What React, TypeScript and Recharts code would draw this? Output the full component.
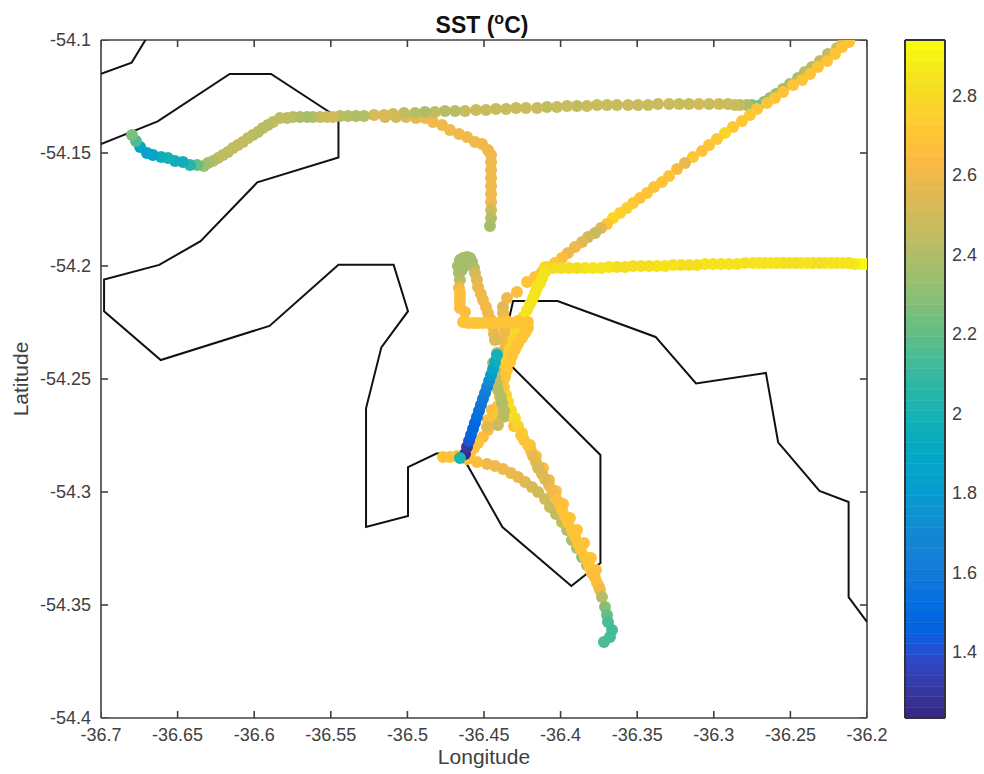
import { Bar, BarChart, Label, ReferenceLine, Scatter, ScatterChart, XAxis, YAxis } from "recharts";

// [lon, lat]
const coastNorth = [[-36.7, -54.115], [-36.68, -54.11], [-36.671, -54.1]];
const coastMain = [
  [-36.7, -54.146], [-36.663, -54.136], [-36.616, -54.115], [-36.589, -54.115], [-36.545, -54.1345], [-36.545, -54.152],
  [-36.598, -54.163], [-36.635, -54.189], [-36.662, -54.1995], [-36.698, -54.206], [-36.698, -54.22], [-36.661, -54.2416],
  [-36.59, -54.2265], [-36.545, -54.1995], [-36.509, -54.1995], [-36.4996, -54.22], [-36.517, -54.236], [-36.527, -54.263],
  [-36.527, -54.3155], [-36.4996, -54.3106], [-36.4996, -54.289], [-36.481, -54.283], [-36.469, -54.2827], [-36.462, -54.2867],
  [-36.438, -54.3155], [-36.393, -54.3416], [-36.374, -54.3314], [-36.374, -54.2836], [-36.431, -54.245], [-36.436, -54.2305],
  [-36.431, -54.2155], [-36.402, -54.2155], [-36.338, -54.2314], [-36.3116, -54.252], [-36.266, -54.2473], [-36.258, -54.278],
  [-36.231, -54.2995], [-36.212, -54.3044], [-36.212, -54.3465], [-36.2, -54.3575],
];

// [lon, lat, sst]
const stubLeg = [
  [-36.5146, -54.1341, 2.5], [-36.5074, -54.1341, 2.5], [-36.5009, -54.1341, 2.55], [-36.4944, -54.1345, 2.58], [-36.4885, -54.1345, 2.62],
  [-36.4833, -54.1363, 2.62], [-36.4774, -54.1376, 2.62], [-36.4722, -54.1398, 2.62], [-36.4663, -54.1416, 2.6], [-36.4611, -54.1429, 2.6],
  [-36.4559, -54.1451, 2.6], [-36.4513, -54.146, 2.62], [-36.4474, -54.1487, 2.62], [-36.4454, -54.1509, 2.62], [-36.4454, -54.154, 2.62],
  [-36.4454, -54.1575, 2.62], [-36.4454, -54.1611, 2.62], [-36.4454, -54.1646, 2.62], [-36.4454, -54.1681, 2.62], [-36.4454, -54.1717, 2.6],
  [-36.4454, -54.1752, 2.5], [-36.4454, -54.1788, 2.42], [-36.4461, -54.1823, 2.37],
];
const topLeg = [
  [-36.2157, -54.1013, 2.5], [-36.2196, -54.1035, 2.48], [-36.2255, -54.1062, 2.45], [-36.2307, -54.1093, 2.44], [-36.2359, -54.1119, 2.42],
  [-36.2405, -54.1142, 2.42], [-36.245, -54.1168, 2.4], [-36.2503, -54.1195, 2.36], [-36.2548, -54.1217, 2.36], [-36.2594, -54.1239, 2.34],
  [-36.2633, -54.1257, 2.34], [-36.2672, -54.1274, 2.3], [-36.2711, -54.1292, 2.22], [-36.2751, -54.1288, 2.3], [-36.2783, -54.1288, 2.4],
  [-36.2829, -54.1288, 2.46], [-36.2862, -54.1288, 2.48], [-36.2907, -54.1283, 2.48], [-36.2966, -54.1283, 2.5], [-36.3031, -54.1283, 2.48],
  [-36.3097, -54.1283, 2.5], [-36.3162, -54.1283, 2.48], [-36.3227, -54.1283, 2.48], [-36.3292, -54.1283, 2.48], [-36.3364, -54.1283, 2.48],
  [-36.3429, -54.1288, 2.48], [-36.3495, -54.1288, 2.48], [-36.356, -54.1288, 2.48], [-36.3632, -54.1288, 2.48], [-36.3697, -54.1288, 2.48],
  [-36.3762, -54.1288, 2.48], [-36.3828, -54.1292, 2.48], [-36.3893, -54.1292, 2.46], [-36.3958, -54.1292, 2.48], [-36.4024, -54.1296, 2.48],
  [-36.4089, -54.1296, 2.46], [-36.4154, -54.1301, 2.48], [-36.4226, -54.1301, 2.48], [-36.4291, -54.1301, 2.48], [-36.4356, -54.1305, 2.48],
  [-36.4422, -54.1305, 2.48], [-36.4487, -54.131, 2.48], [-36.4552, -54.131, 2.48], [-36.4624, -54.1314, 2.47], [-36.4689, -54.1314, 2.42],
  [-36.4755, -54.1314, 2.42], [-36.482, -54.1319, 2.44], [-36.4885, -54.1319, 2.4], [-36.495, -54.1323, 2.42], [-36.5022, -54.1323, 2.44],
  [-36.5094, -54.1327, 2.5], [-36.5153, -54.1332, 2.52], [-36.5218, -54.1332, 2.54], [-36.5283, -54.1336, 2.42], [-36.5336, -54.1336, 2.4],
  [-36.5388, -54.1336, 2.42], [-36.544, -54.1336, 2.42], [-36.5486, -54.1341, 2.5], [-36.5525, -54.1341, 2.5], [-36.557, -54.1341, 2.48],
  [-36.5616, -54.1341, 2.42], [-36.5655, -54.1341, 2.37], [-36.5701, -54.1341, 2.39], [-36.5747, -54.1341, 2.42], [-36.5786, -54.1345, 2.45],
  [-36.5832, -54.1345, 2.45], [-36.5877, -54.1363, 2.44], [-36.591, -54.1376, 2.42], [-36.5943, -54.1389, 2.42], [-36.5975, -54.1407, 2.42],
  [-36.6008, -54.142, 2.42], [-36.604, -54.1434, 2.44], [-36.6073, -54.1451, 2.44], [-36.6106, -54.1465, 2.46], [-36.6138, -54.1478, 2.46],
  [-36.6171, -54.1496, 2.46], [-36.6204, -54.1509, 2.46], [-36.6236, -54.1522, 2.44], [-36.6269, -54.1535, 2.42], [-36.6302, -54.1544, 2.38],
  [-36.6328, -54.1558, 2.33], [-36.6373, -54.1553, 2.2], [-36.6419, -54.1553, 2.05], [-36.6465, -54.154, 1.98], [-36.6517, -54.1535, 1.98],
  [-36.6563, -54.1522, 2.0], [-36.6608, -54.1518, 1.98], [-36.6661, -54.1509, 1.88], [-36.67, -54.15, 1.87], [-36.6745, -54.1473, 1.88],
  [-36.6772, -54.1447, 2.15], [-36.6798, -54.142, 2.25],
];
const neLeg = [
  [-36.2117, -54.1009, 2.68], [-36.2163, -54.1031, 2.68], [-36.2209, -54.1062, 2.68], [-36.2261, -54.1093, 2.68], [-36.232, -54.1119, 2.68],
  [-36.2372, -54.115, 2.68], [-36.2424, -54.1177, 2.68], [-36.2483, -54.1199, 2.68], [-36.2548, -54.123, 2.68], [-36.2601, -54.1257, 2.68],
  [-36.2653, -54.1279, 2.68], [-36.2718, -54.1305, 2.7], [-36.2764, -54.1332, 2.72], [-36.2816, -54.1358, 2.72], [-36.2875, -54.1385, 2.72],
  [-36.2927, -54.1412, 2.8], [-36.2979, -54.1438, 2.72], [-36.3031, -54.1465, 2.68], [-36.3077, -54.1491, 2.7], [-36.3136, -54.1518, 2.72],
  [-36.3188, -54.1544, 2.58], [-36.324, -54.1571, 2.64], [-36.3292, -54.1602, 2.68], [-36.3338, -54.1628, 2.68], [-36.339, -54.165, 2.68],
  [-36.3436, -54.1677, 2.68], [-36.3482, -54.1699, 2.7], [-36.3527, -54.1721, 2.72], [-36.3567, -54.1743, 2.74], [-36.3612, -54.1765, 2.74],
  [-36.3658, -54.1788, 2.8], [-36.3697, -54.1814, 2.68], [-36.3736, -54.1832, 2.55], [-36.3775, -54.1854, 2.48], [-36.3821, -54.1872, 2.5],
  [-36.386, -54.1894, 2.55], [-36.3906, -54.1916, 2.62], [-36.3952, -54.1942, 2.62], [-36.3991, -54.1965, 2.65], [-36.4037, -54.1987, 2.68],
  [-36.4082, -54.2009, 2.68], [-36.4121, -54.2027, 2.68], [-36.4167, -54.2049, 2.7], [-36.4219, -54.2071, 2.68], [-36.4285, -54.2115, 2.66],
  [-36.435, -54.2142, 2.6], [-36.4376, -54.2181, 2.55], [-36.4376, -54.2208, 2.58], [-36.4369, -54.223, 2.6], [-36.4369, -54.2261, 2.6],
  [-36.4363, -54.2283, 2.62], [-36.4363, -54.2314, 2.6], [-36.4363, -54.2341, 2.6], [-36.4363, -54.2371, 2.58], [-36.4369, -54.2394, 2.55],
];
const southLeg = [
  [-36.4376, -54.2447, 2.55], [-36.4376, -54.2504, 2.6], [-36.4376, -54.2558, 2.62], [-36.4363, -54.2611, 2.62], [-36.4337, -54.2664, 2.65],
  [-36.4304, -54.2708, 2.65], [-36.4258, -54.2748, 2.68], [-36.4213, -54.2792, 2.7], [-36.418, -54.2841, 2.58], [-36.4147, -54.2894, 2.52],
  [-36.4102, -54.2942, 2.55], [-36.4056, -54.2991, 2.62], [-36.4024, -54.3035, 2.66], [-36.3991, -54.308, 2.68], [-36.3952, -54.3137, 2.68],
  [-36.3906, -54.3199, 2.7], [-36.3867, -54.3257, 2.7], [-36.3821, -54.3314, 2.68], [-36.3795, -54.3358, 2.65], [-36.3762, -54.3403, 2.65],
  [-36.3743, -54.3434, 2.6], [-36.373, -54.3465, 2.42], [-36.371, -54.3509, 2.3], [-36.3697, -54.3544, 2.22], [-36.3691, -54.3575, 2.15],
  [-36.3664, -54.3611, 2.13], [-36.3678, -54.3642, 2.13], [-36.3717, -54.3664, 2.15],
];
const southPass = [
  [-36.42, -54.2792, 2.68], [-36.4161, -54.2841, 2.68], [-36.4115, -54.2894, 2.66], [-36.4076, -54.2947, 2.66], [-36.403, -54.2996, 2.68], [-36.3984, -54.3053, 2.68],
  [-36.3939, -54.3115, 2.68], [-36.3893, -54.3168, 2.7], [-36.3847, -54.3226, 2.7], [-36.3802, -54.3292, 2.68], [-36.3769, -54.3345, 2.66],
];
const southFill = [
  [-36.4239, -54.277, 2.68], [-36.4193, -54.2819, 2.66], [-36.4161, -54.2867, 2.55], [-36.4121, -54.292, 2.52], [-36.4076, -54.2969, 2.58],
  [-36.4037, -54.3013, 2.64], [-36.4004, -54.3058, 2.68], [-36.3971, -54.3106, 2.68], [-36.3926, -54.3168, 2.68], [-36.3886, -54.323, 2.7],
  [-36.3841, -54.3288, 2.7], [-36.3808, -54.3336, 2.68], [-36.3775, -54.338, 2.66], [-36.3749, -54.342, 2.62],
];
const curveLeg = [
  [-36.4611, -54.2854, 2.65], [-36.4546, -54.2867, 2.65], [-36.448, -54.2876, 2.62], [-36.4428, -54.2885, 2.62], [-36.4376, -54.2898, 2.6],
  [-36.4324, -54.2916, 2.58], [-36.4278, -54.2934, 2.58], [-36.4232, -54.2956, 2.55], [-36.4187, -54.2978, 2.52], [-36.4147, -54.3, 2.5],
  [-36.4102, -54.3031, 2.5], [-36.4069, -54.3066, 2.48], [-36.403, -54.3097, 2.45], [-36.3991, -54.3133, 2.45], [-36.3958, -54.3168, 2.42],
  [-36.3926, -54.3212, 2.4], [-36.3893, -54.3248, 2.35], [-36.386, -54.3288, 2.3], [-36.3828, -54.3323, 2.35], [-36.3795, -54.3358, 2.4],
];
const westStub = [[-36.4768, -54.2845, 2.7], [-36.4722, -54.2845, 2.7], [-36.4676, -54.2841, 2.7]];
const eastLeg = [
  [-36.2, -54.1991, 2.88], [-36.2039, -54.1991, 2.92], [-36.2078, -54.1991, 2.88], [-36.2117, -54.1987, 2.86], [-36.2157, -54.1987, 2.84], [-36.2196, -54.1987, 2.84],
  [-36.2235, -54.1987, 2.84], [-36.2274, -54.1987, 2.84], [-36.2313, -54.1987, 2.82], [-36.2352, -54.1987, 2.82], [-36.2392, -54.1987, 2.84], [-36.2431, -54.1987, 2.84],
  [-36.247, -54.1987, 2.82], [-36.2509, -54.1987, 2.82], [-36.2548, -54.1987, 2.82], [-36.2587, -54.1987, 2.84], [-36.2627, -54.1987, 2.84], [-36.2666, -54.1987, 2.84],
  [-36.2705, -54.1987, 2.86], [-36.2744, -54.1987, 2.86], [-36.2796, -54.1987, 2.84], [-36.2849, -54.1991, 2.84], [-36.2901, -54.1991, 2.84], [-36.2953, -54.1991, 2.84],
  [-36.3005, -54.1991, 2.84], [-36.3057, -54.1991, 2.84], [-36.311, -54.1996, 2.82], [-36.3162, -54.1996, 2.82], [-36.3214, -54.1996, 2.82], [-36.3266, -54.1996, 2.84],
  [-36.3319, -54.2, 2.84], [-36.3371, -54.2, 2.84], [-36.3423, -54.2, 2.82], [-36.3475, -54.2, 2.82], [-36.3527, -54.2, 2.82], [-36.358, -54.2004, 2.82],
  [-36.3632, -54.2004, 2.82], [-36.3684, -54.2004, 2.84], [-36.3736, -54.2009, 2.84], [-36.3789, -54.2009, 2.84], [-36.3841, -54.2009, 2.84], [-36.3893, -54.2009, 2.82],
  [-36.3945, -54.2009, 2.82], [-36.3997, -54.2009, 2.82], [-36.405, -54.2009, 2.82], [-36.4102, -54.2004, 2.82],
];
const yellowLeg = [
  [-36.4082, -54.2004, 2.8], [-36.4102, -54.2027, 2.84], [-36.4121, -54.2053, 2.84], [-36.4134, -54.2075, 2.84], [-36.4154, -54.2097, 2.84],
  [-36.4167, -54.2119, 2.84], [-36.418, -54.2142, 2.84], [-36.42, -54.2168, 2.86], [-36.4219, -54.2195, 2.86], [-36.4245, -54.2226, 2.84],
  [-36.4265, -54.2261, 2.82], [-36.4291, -54.2292, 2.8], [-36.4311, -54.2327, 2.78], [-36.433, -54.2363, 2.76], [-36.4343, -54.2394, 2.75],
  [-36.4356, -54.2425, 2.75], [-36.4363, -54.246, 2.75], [-36.4369, -54.2496, 2.75], [-36.4369, -54.2535, 2.75], [-36.4356, -54.2571, 2.78],
  [-36.4343, -54.2602, 2.8], [-36.4324, -54.2637, 2.82], [-36.4298, -54.2673, 2.82], [-36.4278, -54.2708, 2.76], [-36.4252, -54.2739, 2.72],
];
const blobLeg = [
  [-36.4644, -54.2018, 2.4], [-36.4617, -54.1996, 2.38], [-36.4663, -54.2031, 2.38], [-36.4591, -54.1965, 2.37], [-36.4637, -54.1965, 2.36],
  [-36.4611, -54.196, 2.38], [-36.4657, -54.1973, 2.37], [-36.467, -54.2, 2.36],
  [-36.4578, -54.1982, 2.38], [-36.4565, -54.2009, 2.4], [-36.4559, -54.2031, 2.5], [-36.4546, -54.2062, 2.55], [-36.4539, -54.2093, 2.58],
  [-36.452, -54.2124, 2.6], [-36.4507, -54.215, 2.6], [-36.4487, -54.2181, 2.6], [-36.4474, -54.2208, 2.6], [-36.4454, -54.2239, 2.6],
  [-36.4441, -54.227, 2.58], [-36.4435, -54.2301, 2.58], [-36.4428, -54.2327, 2.55], [-36.4415, -54.2385, 2.4],
];
const crossLeg = [
  [-36.4657, -54.2062, 2.42], [-36.4663, -54.2097, 2.6], [-36.4657, -54.2119, 2.65], [-36.4657, -54.2142, 2.65], [-36.4657, -54.2164, 2.65],
  [-36.4657, -54.2186, 2.65], [-36.4624, -54.2204, 2.65], [-36.4637, -54.2248, 2.68], [-36.4604, -54.2252, 2.68], [-36.4572, -54.2252, 2.68],
  [-36.4539, -54.2252, 2.68], [-36.4507, -54.2252, 2.68], [-36.4474, -54.2252, 2.68], [-36.4441, -54.2252, 2.68], [-36.4409, -54.2252, 2.7],
  [-36.4376, -54.2252, 2.7], [-36.4343, -54.2248, 2.7], [-36.4311, -54.2252, 2.7], [-36.4278, -54.2243, 2.7], [-36.4245, -54.2252, 2.7],
  [-36.4213, -54.2248, 2.68], [-36.4213, -54.2274, 2.68], [-36.4232, -54.2296, 2.68], [-36.4252, -54.2319, 2.68], [-36.4278, -54.2345, 2.7],
  [-36.4298, -54.2372, 2.7], [-36.4317, -54.2398, 2.7], [-36.433, -54.2425, 2.72], [-36.435, -54.246, 2.72], [-36.4363, -54.2491, 2.7],
  [-36.4382, -54.2535, 2.7], [-36.4396, -54.258, 2.68], [-36.4409, -54.2619, 2.68], [-36.4448, -54.2637, 2.66], [-36.4474, -54.2681, 2.65],
  [-36.4428, -54.2659, 2.68], [-36.4448, -54.2695, 2.66], [-36.4474, -54.2726, 2.65], [-36.4507, -54.2757, 2.66], [-36.4539, -54.2783, 2.68],
  [-36.4565, -54.2805, 2.68], [-36.4591, -54.2827, 2.68],
];
const oliveLeg = [
  [-36.4441, -54.2429, 2.42], [-36.4428, -54.246, 2.45], [-36.4428, -54.2491, 2.45], [-36.4415, -54.2522, 2.45], [-36.4409, -54.2549, 2.42],
  [-36.4389, -54.258, 2.42], [-36.4382, -54.2606, 2.4], [-36.4369, -54.2642, 2.42], [-36.4376, -54.2668, 2.42], [-36.4409, -54.2704, 2.48],
  [-36.448, -54.2712, 2.55],
];
const blueLeg = [
  [-36.4624, -54.2832, 1.25], [-36.4611, -54.2801, 1.3], [-36.4598, -54.2774, 1.42], [-36.4585, -54.2748, 1.45], [-36.4572, -54.2721, 1.48],
  [-36.4559, -54.2695, 1.5], [-36.4546, -54.2668, 1.52], [-36.4533, -54.2642, 1.55], [-36.452, -54.2615, 1.58], [-36.4507, -54.2589, 1.6],
  [-36.4493, -54.2562, 1.62], [-36.448, -54.2535, 1.65], [-36.4467, -54.2509, 1.72], [-36.4454, -54.2482, 1.82], [-36.4441, -54.2456, 1.9],
  [-36.4428, -54.2425, 1.95], [-36.4415, -54.2394, 2.0], [-36.4657, -54.285, 2.02],
];

const trackLegs = [stubLeg, topLeg, neLeg, curveLeg, southPass, southFill, southLeg, westStub, eastLeg, yellowLeg, blobLeg, crossLeg, oliveLeg, blueLeg];

const lonTicks = [-36.7, -36.65, -36.6, -36.55, -36.5, -36.45, -36.4, -36.35, -36.3, -36.25, -36.2];
const latTicks = [-54.1, -54.15, -54.2, -54.25, -54.3, -54.35, -54.4];
const sstTicks = [1.4, 1.6, 1.8, 2, 2.2, 2.4, 2.6, 2.8];
const sstMin = 1.234;
const sstMax = 2.941;

const parula = [
  "#352A87", "#363093", "#3637A0", "#353DAD", "#3243BA", "#2C4AC7", "#2053D4", "#0F5CDD",
  "#0363E1", "#0268E1", "#046DE0", "#0871DE", "#0D75DC", "#1079DA", "#127DD8", "#1481D6",
  "#1485D4", "#1389D3", "#108ED2", "#0C93D2", "#0998D1", "#079CCF", "#06A0CD", "#06A4CA",
  "#06A7C6", "#07A9C2", "#0AACBE", "#0FAEB9", "#15B1B4", "#1DB3AF", "#25B5A9", "#2EB7A4",
  "#38B99E", "#42BB98", "#4DBC92", "#59BD8C", "#65BE86", "#71BF80", "#7CBF7B", "#87BF77",
  "#92BF73", "#9CBF6F", "#A5BE6B", "#AEBD67", "#B7BD64", "#C0BC60", "#C8BC5D", "#D1BB59",
  "#D9BA56", "#E1B952", "#E9B94E", "#F1B949", "#F8BA44", "#FDBE3D", "#FFC337", "#FEC832",
  "#FCCE2E", "#FAD32A", "#F7D826", "#F5DE21", "#F5E41D", "#F5EB18", "#F6F213", "#F9FB0E",
];

const AXIS = "#404040";
const FONT = "'Liberation Sans', Arial, sans-serif";
const tickFont = { fontSize: 18, fill: "#404040", fontFamily: FONT };

function sstColor(v: number) {
  const i = Math.floor(((v - sstMin) / (sstMax - sstMin)) * parula.length);
  return parula[Math.max(0, Math.min(parula.length - 1, i))];
}

const TrackDot = (p: any) => <circle cx={p.cx} cy={p.cy} r={6} fill={sstColor(p.payload.sst)} />;

const bottomTick = (p: any) => <text x={p.x} y={p.y + 13} textAnchor="middle" {...tickFont}>{p.payload.value}</text>;
const leftTick = (p: any) => <text x={p.x} y={p.y + 6} textAnchor="end" {...tickFont}>{p.payload.value}</text>;
const barTick = (p: any) => <text x={p.x} y={p.y + 6} textAnchor="start" {...tickFont}>{p.payload.value}</text>;

// inward tick marks on all four sides of the box, drawn as short two-point lines
const lonMarkLen = 0.0046;
const latMarkLen = 0.0031;
const tickMarks = [
  ...lonTicks.flatMap((lon) => [
    [{ lon, lat: -54.4 }, { lon, lat: -54.4 + latMarkLen }],
    [{ lon, lat: -54.1 }, { lon, lat: -54.1 - latMarkLen }],
  ]),
  ...latTicks.flatMap((lat) => [
    [{ lon: -36.7, lat }, { lon: -36.7 + lonMarkLen, lat }],
    [{ lon: -36.2, lat }, { lon: -36.2 - lonMarkLen, lat }],
  ]),
];

const toCoast = (rows: number[][]) => rows.map(([lon, lat]) => ({ lon, lat }));
const toTrack = (rows: number[][]) => rows.map(([lon, lat, sst]) => ({ lon, lat, sst }));

const bandStep = (sstMax - sstMin) / parula.length;
const bandRow: Record<string, number> = { name: 0 };
parula.forEach((_, i) => {
  bandRow[`b${i}`] = i === 0 ? sstMin + bandStep : bandStep;
});

export default function App() {
  return (
    <div style={{ position: "absolute", left: 0, top: 0, width: 984, height: 774, background: "#fff" }}>
      <ScatterChart width={984} height={774} margin={{ top: 39, right: 116, bottom: 0, left: 0 }}>
        <XAxis
          type="number"
          dataKey="lon"
          domain={[-36.7, -36.2]}
          ticks={lonTicks}
          allowDataOverflow
          height={56}
          tickSize={0}
          tickMargin={10}
          tick={bottomTick}
          tickLine={false}
          stroke={AXIS}
          strokeWidth={1.6}
          interval={0}
        >
          <Label value="Longitude" position="insideBottom" offset={10} style={{ fontSize: 21, fill: "#404040", fontFamily: FONT }} />
        </XAxis>
        <XAxis
          xAxisId="top"
          orientation="top"
          type="number"
          dataKey="lon"
          domain={[-36.7, -36.2]}
          height={1}
          tick={false}
          tickLine={false}
          stroke={AXIS}
          strokeWidth={1.6}
        />
        <YAxis
          type="number"
          dataKey="lat"
          domain={[-54.4, -54.1]}
          ticks={latTicks}
          allowDataOverflow
          width={101}
          tickSize={0}
          tickMargin={10}
          tick={leftTick}
          tickLine={false}
          stroke={AXIS}
          strokeWidth={1.6}
          interval={0}
        >
          <Label value="Latitude" angle={-90} position="insideLeft" offset={21} style={{ fontSize: 21, fill: "#404040", fontFamily: FONT, textAnchor: "middle" }} />
        </YAxis>
        <YAxis
          yAxisId="right"
          orientation="right"
          type="number"
          dataKey="lat"
          domain={[-54.4, -54.1]}
          width={1}
          tick={false}
          tickLine={false}
          stroke={AXIS}
          strokeWidth={1.6}
        />
        {tickMarks.map((mark, i) => (
          <Scatter key={`m${i}`} data={mark} line={{ stroke: AXIS, strokeWidth: 1.6 }} shape={() => null} isAnimationActive={false} />
        ))}
        <Scatter data={toCoast(coastNorth)} line={{ stroke: "#111", strokeWidth: 2 }} shape={() => null} isAnimationActive={false} />
        <Scatter data={toCoast(coastMain)} line={{ stroke: "#111", strokeWidth: 2 }} shape={() => null} isAnimationActive={false} />
        {trackLegs.map((leg, i) => (
          <Scatter key={i} data={toTrack(leg)} shape={TrackDot} isAnimationActive={false} />
        ))}
      </ScatterChart>

      <div
        style={{
          position: "absolute",
          left: 282,
          top: 13,
          width: 400,
          textAlign: "center",
          fontFamily: FONT,
          fontWeight: "bold",
          fontSize: 23,
          lineHeight: "24px",
          color: "#111",
        }}
      >
        SST (<sup style={{ fontSize: 16, lineHeight: 0 }}>o</sup>C)
      </div>

      <div style={{ position: "absolute", left: 904, top: 0 }}>
        <BarChart
          width={80}
          height={774}
          data={[bandRow]}
          barCategoryGap={0}
          margin={{ top: 39, right: 0, bottom: 0, left: 0 }}
        >
          {parula.map((c, i) => (
            <Bar key={c} dataKey={`b${i}`} stackId="cb" fill={c} stroke={c} strokeWidth={0.5} isAnimationActive={false} />
          ))}
          <XAxis dataKey="name" height={56} tick={false} tickLine={false} stroke="#333" strokeWidth={2} />
          <XAxis xAxisId="top" orientation="top" dataKey="name" height={1} tick={false} tickLine={false} stroke="#333" strokeWidth={2} />
          <YAxis
            yAxisId="left"
            orientation="left"
            type="number"
            domain={[sstMin, sstMax]}
            width={1}
            tick={false}
            tickLine={false}
            stroke="#333"
            strokeWidth={2}
          />
          <YAxis
            orientation="right"
            type="number"
            domain={[sstMin, sstMax]}
            ticks={sstTicks}
            allowDataOverflow
            width={39}
            tickSize={0}
            tickMargin={7}
            tick={barTick}
            tickLine={false}
            stroke="#333"
            strokeWidth={2}
            interval={0}
          />
          {sstTicks.map((v) => (
            <ReferenceLine
              key={v}
              y={v}
              shape={(p: any) => <line x1={p.x2 - 6} x2={p.x2} y1={p.y1} y2={p.y2} stroke="#333" strokeWidth={1.6} />}
            />
          ))}
        </BarChart>
      </div>
    </div>
  );
}
